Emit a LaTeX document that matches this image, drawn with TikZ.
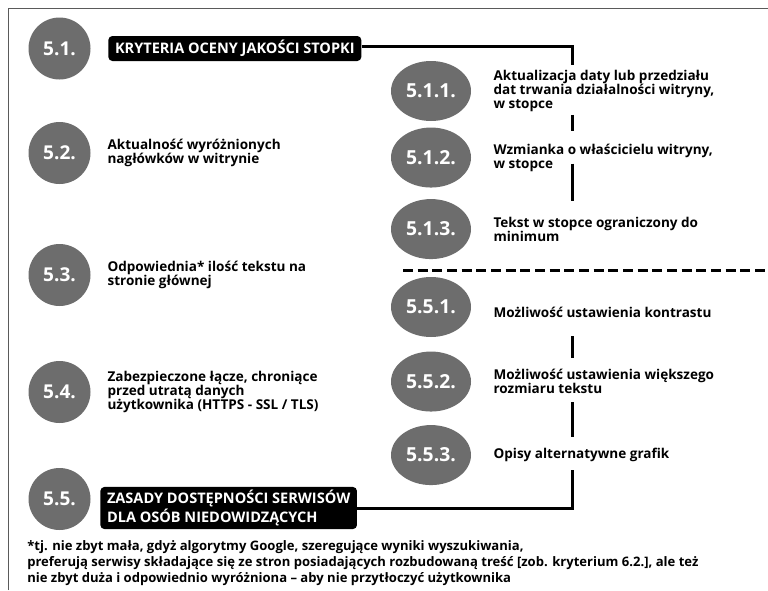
\documentclass[tikz,border=0pt]{standalone}
\usepackage{fontspec}
\setmainfont{Open Sans}
\newfontfamily\notefont{Open Sans}
\usetikzlibrary{positioning,shapes.geometric}
\definecolor{numgray}{RGB}{109,109,109}
\definecolor{framegray}{RGB}{90,90,90}
\tikzset{
  numcirc/.style={circle, fill=numgray, minimum size=46.5pt, inner sep=0pt,
    text=white, font=\fontsize{14.3}{14.3}\selectfont\bfseries},
  numell/.style={ellipse, fill=numgray, minimum width=60pt, minimum height=45pt,
    inner sep=0pt, text=white, font=\fontsize{14.5}{14.5}\selectfont\bfseries},
  desc/.style={align=left, inner sep=2pt, font=\fontsize{10.15}{10.6}\selectfont\bfseries},
  headbox/.style={fill=black, text=white, rounded corners=3pt, align=left,
    inner xsep=5pt, inner ysep=2.5pt, font=\fontsize{10.9}{11}\selectfont\bfseries},
  rail/.style={line width=2.25pt},
}

\begin{document}
\begin{tikzpicture}[x=0.75pt, y=-0.75pt]
\useasboundingbox (0,0) rectangle (768,590);
% frame
\draw[framegray, line width=0.75pt] (8,590) -- (8,8) -- (768,8);

% left column
\node[numcirc] (c51) at (59.5,48.5) {5.1.};
\node[numcirc] (c52) at (59.5,153) {5.2.};
\node[numcirc] (c53) at (59.5,275) {5.3.};
\node[numcirc] (c54) at (59.5,392) {5.4.};
\node[numcirc] (c55) at (59.5,499) {5.5.};

\node[headbox, minimum height=18.75pt, right=13pt of c51] (h51) {KRYTERIA OCENY JAKOŚCI STOPKI};
\node[desc, right=10.4pt of c52] (t52) {Aktualność wyróżnionych\\nagłówków w witrynie};
\node[desc, right=10.4pt of c53] (t53) {Odpowiednia* ilość tekstu na\\stronie głównej};
\node[desc, right=10.4pt of c54] (t54) {Zabezpieczone łącze, chroniące\\przed utratą danych\\użytkownika (HTTPS - SSL / TLS)};
\node[headbox, right=7pt of c55, yshift=-6.75pt] (h55) {ZASADY DOSTĘPNOŚCI SERWISÓW\\DLA OSÓB NIEDOWIDZĄCYCH};

% right column
\node[numell] (e511) at (431,91) {5.1.1.};
\node[numell, below=4.5pt of e511] (e512) {5.1.2.};
\node[numell, below=8.25pt of e512] (e513) {5.1.3.};
\node[numell] (e551) at (431,307) {5.5.1.};
\node[numell, below=10.5pt of e551] (e552) {5.5.2.};
\node[numell, below=9.75pt of e552] (e553) {5.5.3.};

\node[desc, right=14.5pt of e511] (t511) {Aktualizacja daty lub przedziału\\dat trwania działalności witryny,\\w stopce};
\node[desc, right=14.5pt of e512] (t512) {Wzmianka o właścicielu witryny,\\w stopce};
\node[desc, right=14.5pt of e513] (t513) {Tekst w stopce ograniczony do\\minimum};
\node[desc, right=14.5pt of e551, yshift=-3.75pt] (t551) {Możliwość ustawienia kontrastu};
\node[desc, right=14.5pt of e552] (t552) {Możliwość ustawienia większego\\rozmiaru tekstu};
\node[desc, right=14.5pt of e553] (t553) {Opisy alternatywne grafik};

% rails
\coordinate (rail) at (572,0);
\draw[rail, shorten >=2pt] ([yshift=1.5pt]h51.east) -| (t511.north -| rail);
\draw[rail, shorten >=7pt] (t511.south -| rail) -- (t512.north -| rail);
\draw[rail, shorten <=-8pt, shorten >=10pt] (t512.south -| rail) -- (t513.north -| rail);
\draw[rail, shorten <=12pt, shorten >=6pt] (t551.south -| rail) -- (t552.north -| rail);
\draw[rail, shorten <=4pt, shorten >=6pt] (t552.south -| rail) -- (t553.north -| rail);
\draw[rail, shorten <=4pt] (t553.south -| rail) |- (h55.east);

% separator
\coordinate (sepL) at (403,270);
\coordinate (sepR) at (768,270);
\draw[rail, dash pattern=on 7.5pt off 3.5pt] (sepL) -- (sepR);

% footnote
\node[anchor=north west, align=left, inner sep=0pt,
  font=\notefont\fontsize{9.8}{12}\selectfont\bfseries] (note) at (27,540)
  {*tj. nie zbyt mała, gdyż algorytmy Google, szeregujące wyniki wyszukiwania,\\
   preferują serwisy składające się ze stron posiadających rozbudowaną treść [zob. kryterium 6.2.], ale też\\
   nie zbyt duża i odpowiednio wyróżniona – aby nie przytłoczyć użytkownika};
\end{tikzpicture}
\end{document}
